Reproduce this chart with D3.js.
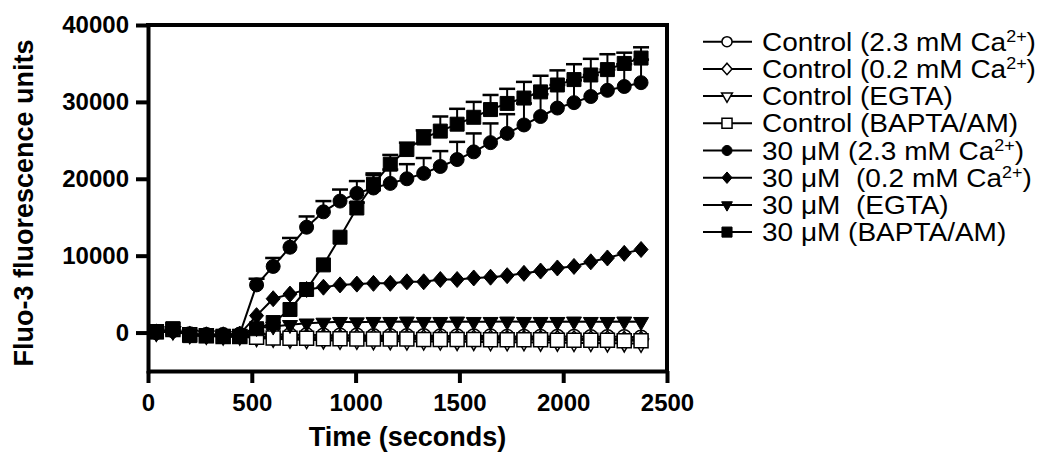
<!DOCTYPE html>
<html>
<head>
<meta charset="utf-8">
<script src="https://cdn.jsdelivr.net/npm/d3@7"></script>
<style>
  body { margin: 0; background: #fff; }
  text { font-family: "Liberation Sans", Arial, sans-serif; fill: #000; }
</style>
</head>
<body>
<script>
// sampling times (seconds)
var timePoints = [40, 120, 201, 281, 362, 442, 523, 603, 684, 764, 845, 925, 1006, 1086, 1167,
                  1247, 1328, 1408, 1489, 1569, 1650, 1730, 1811, 1891, 1972, 2052, 2133, 2213, 2294, 2375];

// control groups (open symbols)
var ctrlCa23 = [100, 300, -200, -300, -300, -300, -200, -300, -300, -300, -350, -350, -350, -400, -400,
                -400, -400, -450, -450, -450, -450, -500, -500, -500, -500, -500, -550, -550, -550, -600];
var ctrlCa02 = [0, 200, -300, -400, -400, -400, -500, -550, -600, -600, -600, -650, -650, -650, -700,
                -700, -700, -700, -750, -750, -750, -800, -800, -800, -800, -850, -850, -850, -900, -900];
var ctrlEGTA = [0, 200, -300, -400, -500, -500, -700, -800, -900, -950, -1000, -1050, -1050, -1100, -1100,
                -1150, -1150, -1150, -1200, -1200, -1250, -1250, -1250, -1300, -1300, -1350, -1350, -1400, -1400, -1450];
var ctrlBAPTA = [100, 400, -300, -400, -500, -500, -600, -700, -750, -750, -800, -800, -850, -850, -850,
                 -850, -900, -900, -900, -900, -950, -950, -950, -950, -1000, -1000, -1000, -1000, -1050, -1050];

// 30 uM groups (filled symbols)
var drugCa23 = [0, 300, -300, -300, -300, -200, 6200, 8600, 11100, 13700, 15700, 17100, 18100, 18800, 19400,
                20000, 20700, 21600, 22500, 23500, 24700, 25900, 27000, 28100, 29200, 29900, 30700, 31500, 32000, 32500];
var drugCa23Err = [0, 0, 0, 0, 0, 0, 800, 1100, 1200, 1400, 1400, 1500, 1600, 1700, 1800,
                   1900, 2000, 2000, 2300, 2400, 2500, 2500, 2800, 2900, 3000, 2900, 2800, 2700, 2900, 3000];
var drugCa02 = [0, 200, -300, -300, -300, -200, 2200, 4400, 5000, 5600, 5900, 6200, 6300, 6400, 6400,
                6600, 6600, 6900, 6900, 7100, 7200, 7400, 7700, 8000, 8400, 8600, 9200, 9700, 10300, 10800];
var drugEGTA = [0, 200, -300, -300, -300, -200, 600, 800, 1000, 1200, 1300, 1400, 1350, 1400, 1400,
                1450, 1400, 1400, 1450, 1400, 1400, 1450, 1400, 1400, 1400, 1450, 1400, 1400, 1450, 1400];
var drugBAPTA = [100, 500, -400, -400, -500, -500, 500, 1300, 3000, 5600, 8800, 12400, 16200, 19300, 21900,
                 23800, 25300, 26200, 27100, 28000, 29000, 29800, 30500, 31300, 32200, 32900, 33500, 34200, 35000, 35700];
var drugBAPTAErr = [0, 0, 0, 0, 0, 0, 0, 0, 0, 0, 0, 0, 700, 1400, 1200,
                    900, 1000, 1900, 2000, 2000, 1900, 1900, 2100, 2100, 1900, 2000, 2100, 2000, 1400, 1400];

var xTicks = [0, 500, 1000, 1500, 2000, 2500];
var yTicks = [0, 10000, 20000, 30000, 40000];

var legendNames = [
  ["Control (2.3 mM Ca", "2+", ")"],
  ["Control (0.2 mM Ca", "2+", ")"],
  ["Control (EGTA)"],
  ["Control (BAPTA/AM)"],
  ["30 \u03bcM (2.3 mM Ca", "2+", ")"],
  ["30 \u03bcM  (0.2 mM Ca", "2+", ")"],
  ["30 \u03bcM  (EGTA)"],
  ["30 \u03bcM (BAPTA/AM)"]
];

var series = [
  {values: ctrlCa23, shape: "circle", filled: false},
  {values: ctrlCa02, shape: "diamond", filled: false},
  {values: ctrlEGTA, shape: "triangle", filled: false},
  {values: ctrlBAPTA, shape: "square", filled: false},
  {values: drugCa23, err: drugCa23Err, shape: "circle", filled: true},
  {values: drugCa02, shape: "diamond", filled: true},
  {values: drugEGTA, shape: "triangle", filled: true},
  {values: drugBAPTA, err: drugBAPTAErr, shape: "square", filled: true}
];

function markerPath(shape, k) {
  if (shape == "circle") {
    var r = 7 * k;
    return "M" + (-r) + ",0A" + r + "," + r + " 0 1,0 " + r + ",0A" + r + "," + r + " 0 1,0 " + (-r) + ",0Z";
  }
  if (shape == "square") {
    var h = 7 * k;
    return "M" + (-h) + "," + (-h) + "H" + h + "V" + h + "H" + (-h) + "Z";
  }
  if (shape == "diamond") {
    var hw = 7 * k, hh = 8 * k;
    return "M0," + (-hh) + "L" + hw + ",0L0," + hh + "L" + (-hw) + ",0Z";
  }
  // downward triangle, centroid at origin
  var w = 15 * k, t = 13 * k;
  return "M" + (-w / 2) + "," + (-t / 3) + "H" + (w / 2) + "L0," + (2 * t / 3) + "Z";
}

var svg = d3.select("body").append("svg").attr("width", 1050).attr("height", 460);

var x = d3.scaleLinear().domain([0, 2500]).range([148, 667]);
var y = d3.scaleLinear().domain([-5000, 40000]).range([371, 25]);

// frame top / right
svg.append("path")
  .attr("d", "M" + x(0) + "," + y(40000) + "H" + x(2500) + "V" + y(-5000))
  .style("fill", "none").style("stroke", "#000").style("stroke-width", 4)
  .style("stroke-linecap", "square");

var xg = svg.append("g")
  .attr("transform", "translate(0," + y(-5000) + ")")
  .call(d3.axisBottom(x).tickValues(xTicks).tickSize(12).tickSizeOuter(0).tickPadding(11).tickFormat(d3.format("d")));
var yg = svg.append("g")
  .attr("transform", "translate(" + x(0) + ",0)")
  .call(d3.axisLeft(y).tickValues(yTicks).tickSize(12).tickSizeOuter(0).tickPadding(7).tickFormat(d3.format("d")));

[xg, yg].forEach(function (g) {
  g.selectAll("path, line").style("stroke", "#000").style("stroke-width", 4);
  g.selectAll("text").style("font-size", "24px").style("font-weight", "bold").style("fill", "#000");
});
yg.select(".domain").style("stroke-linecap", "square");

svg.append("text")
  .attr("transform", "translate(33," + ((y(40000) + y(-5000)) / 2 + 5) + ") rotate(-90)")
  .attr("text-anchor", "middle")
  .style("font-size", "27px").style("font-weight", "bold")
  .text("Fluo-3 fluorescence units");

svg.append("text")
  .attr("x", (x(0) + x(2500)) / 2).attr("y", 446)
  .attr("text-anchor", "middle")
  .style("font-size", "27px").style("font-weight", "bold")
  .text("Time (seconds)");

var line = d3.line()
  .x(function (d, i) { return x(timePoints[i]); })
  .y(function (d) { return y(d); });

series.forEach(function (s) {
  var g = svg.append("g");
  g.append("path").datum(s.values).attr("d", line)
    .style("fill", "none").style("stroke", "#000").style("stroke-width", 2);

  if (s.err) {
    s.values.forEach(function (v, i) {
      if (!s.err[i]) return;
      var cx = x(timePoints[i]), top = y(v + s.err[i]);
      g.append("line").attr("x1", cx).attr("x2", cx).attr("y1", y(v)).attr("y2", top)
        .style("stroke", "#000").style("stroke-width", 2);
      g.append("line").attr("x1", cx - 8).attr("x2", cx + 8).attr("y1", top).attr("y2", top)
        .style("stroke", "#000").style("stroke-width", 2.5);
    });
  }

  g.selectAll(".pt").data(s.values).enter().append("path")
    .attr("class", "pt")
    .attr("transform", function (d, i) { return "translate(" + x(timePoints[i]) + "," + y(d) + ")"; })
    .attr("d", markerPath(s.shape, 1))
    .style("fill", s.filled ? "#000" : "#fff")
    .style("stroke", "#000").style("stroke-width", s.filled ? 1 : 1.5);
});

// legend
var leg = svg.append("g");
legendNames.forEach(function (parts, i) {
  var cy = 41.7 + 27.2 * i;
  var s = series[i];
  leg.append("line").attr("x1", 703).attr("x2", 752).attr("y1", cy).attr("y2", cy)
    .style("stroke", "#000").style("stroke-width", 2);
  leg.append("path").attr("transform", "translate(727," + cy + ")")
    .attr("d", markerPath(s.shape, 0.72))
    .style("fill", s.filled ? "#000" : "#fff")
    .style("stroke", "#000").style("stroke-width", s.filled ? 1 : 1.5);
  var t = leg.append("text")
    .attr("transform", "translate(762," + (cy + 9) + ") scale(1.12,1)")
    .style("font-size", "25px").style("white-space", "pre");
  t.append("tspan").text(parts[0]);
  if (parts.length > 1) {
    t.append("tspan").attr("dy", -9).style("font-size", "16px").text(parts[1]);
    t.append("tspan").attr("dy", 9).text(parts[2]);
  }
});
</script>
</body>
</html>
